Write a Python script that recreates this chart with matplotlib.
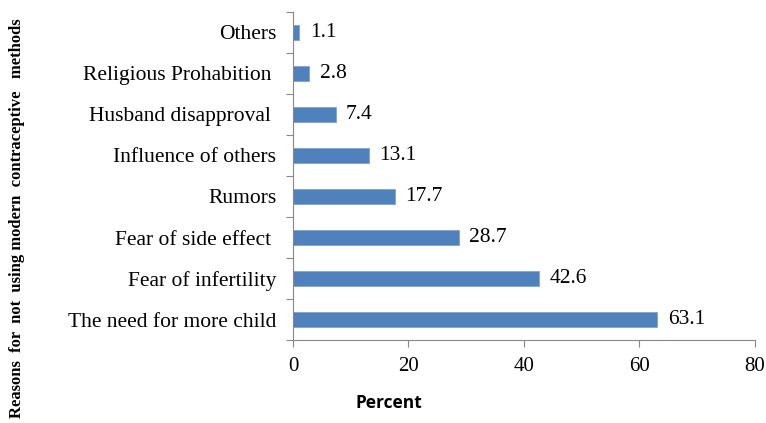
import matplotlib.pyplot as plt
import numpy as np

reasons = ['The need for more child', 'Fear of infertility', 'Fear of side effect ',
           'Rumors', 'Influence of others', 'Husband disapproval ',
           'Religious Prohabition ', 'Others']
percent = [63.1, 42.6, 28.7, 17.7, 13.1, 7.4, 2.8, 1.1]
x_ticks = [0, 20, 40, 60, 80]

serif = 'Liberation Serif'
fig = plt.figure(figsize=(7.66, 4.23), dpi=100)
ax = fig.add_axes([0.3825, 0.196, 0.603, 0.776])

pos = np.arange(len(reasons))
ax.barh(pos, percent, height=0.37, color='#4F81BD', edgecolor='#7FA3D0', linewidth=0.6)
for y, v in zip(pos, percent):
    ax.text(v + 1.8, y, f'{v:.1f}', va='center', ha='left', fontsize=15.5, family=serif)

ax.set_xlim(0, 80)
ax.set_ylim(-0.5, len(reasons) - 0.5)
ax.set_xticks(x_ticks)
ax.set_xticklabels([str(t) for t in x_ticks], fontsize=15, family=serif)

# tick marks between categories, labels at centres
ax.set_yticks(np.arange(len(reasons) + 1) - 0.5)
ax.set_yticklabels([])
ax.set_yticks(pos, minor=True)
ax.set_yticklabels(reasons, minor=True, fontsize=15.5, family=serif)
ax.tick_params(axis='y', which='minor', length=0, pad=12)
ax.tick_params(axis='y', which='major', length=5, color='#888888')
ax.tick_params(axis='x', length=5, color='#888888', pad=7)

for s in ['top', 'right']:
    ax.spines[s].set_visible(False)
for s in ['left', 'bottom']:
    ax.spines[s].set_color('#888888')

fig.text(389 / 766, 1 - 403 / 423, 'Percent', ha='center', va='center',
         fontsize=12.5, fontweight='bold', family='Open Sans')
fig.text(17 / 766, 1 - 218 / 423, 'Reasons  for  not  using modern  contraceptive   methods',
         rotation=90, va='center', ha='center', fontsize=12, fontweight='bold', family=serif)

fig.savefig('out.png', dpi=100)
